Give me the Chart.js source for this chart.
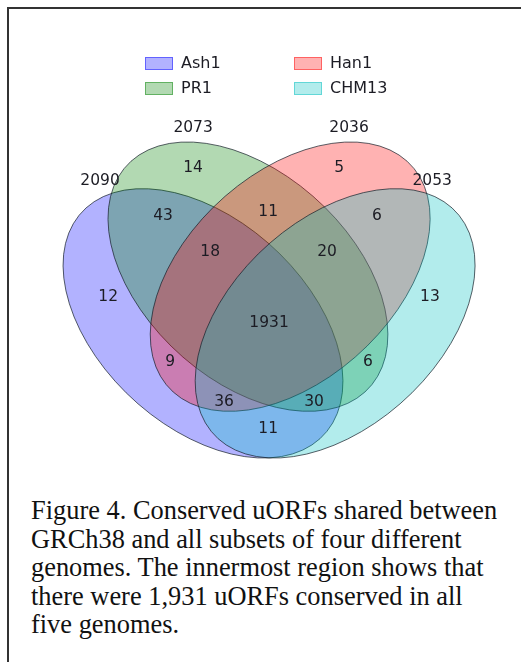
<!DOCTYPE html>
<html>
<head>
<meta charset="utf-8">
<script src="https://cdn.jsdelivr.net/npm/chart.js@4.4.1/dist/chart.umd.min.js"></script>
<style>
  body { margin: 0; background: #fff; }
  #frame { position: absolute; left: 7px; top: 7px; width: 600px; height: 700px;
           border-top: 2px solid #333; border-left: 2px solid #333; }
  #chartBox { position: absolute; left: 0; top: 0; }
  #caption { position: absolute; left: 31px; top: 496px; font-family: "Liberation Serif", serif;
             font-size: 26.4px; line-height: 28.6px; color: #111; white-space: nowrap; }
</style>
</head>
<body>
<div id="frame"></div>
<canvas id="chartBox" width="521" height="470"></canvas>
<div id="caption">Figure 4. Conserved uORFs shared between<br>GRCh38 and all subsets of four different<br>genomes. The innermost region shows that<br>there were 1,931 uORFs conserved in all<br>five genomes.</div>
<script>
// sets (order: blue, green, red, cyan)
var setNames = ["Ash1", "PR1", "Han1", "CHM13"];
var setTotals = [2090, 2073, 2036, 2053];
var setColors = ["0,0,255", "0,128,0", "255,0,0", "0,191,191"];

// region membership (Ash1 PR1 Han1 CHM13) and counts
var regionKeys = ["1000", "0100", "0010", "0001", "1100", "0110", "0011", "1110",
                  "0111", "1111", "1010", "0101", "1011", "1101", "1001"];
var regionCounts = [12, 14, 5, 13, 43, 11, 6, 18, 20, 1931, 9, 6, 36, 30, 11];

// layout (data units of the venn axes)
var regionPos = [[0.139, 0.456], [0.328, 0.733], [0.653, 0.733], [0.855, 0.456],
                 [0.261, 0.630], [0.495, 0.639], [0.737, 0.630], [0.366, 0.553],
                 [0.626, 0.553], [0.497, 0.401], [0.277, 0.317], [0.717, 0.317],
                 [0.397, 0.231], [0.597, 0.231], [0.495, 0.174]];
var setLabelPos = [[0.121, 0.705], [0.328, 0.818], [0.675, 0.818], [0.860, 0.705]];
var ellipseCenters = [[0.350, 0.400], [0.450, 0.500], [0.544, 0.500], [0.644, 0.400]];
var ellipseAngles = [140, 140, 40, 40];
var ellipseW = 0.72, ellipseH = 0.45;

var numFont = '15.5px "DejaVu Sans"';

const ellipsePlugin = {
  id: 'ellipses',
  beforeDatasetsDraw(chart) {
    var ctx = chart.ctx, xs = chart.scales.x, ys = chart.scales.y;
    var sx = xs.getPixelForValue(1) - xs.getPixelForValue(0);
    var sy = ys.getPixelForValue(0) - ys.getPixelForValue(1);
    ellipseCenters.forEach(function (c, i) {
      ctx.save();
      ctx.beginPath();
      ctx.translate(xs.getPixelForValue(c[0]), ys.getPixelForValue(c[1]));
      ctx.scale(sx, -sy);
      ctx.rotate(ellipseAngles[i] * Math.PI / 180);
      ctx.ellipse(0, 0, ellipseW / 2, ellipseH / 2, 0, 0, 2 * Math.PI);
      ctx.restore();
      ctx.save();
      ctx.fillStyle = 'rgba(' + setColors[i] + ',0.3)';
      ctx.fill();
      ctx.strokeStyle = 'rgba(20,30,40,0.7)';
      ctx.lineWidth = 1;
      ctx.stroke();
      ctx.restore();
    });
  },
  afterDatasetsDraw(chart) {
    var ctx = chart.ctx;
    ctx.save();
    ctx.font = numFont;
    ctx.fillStyle = '#1c1c24';
    ctx.textAlign = 'center';
    ctx.textBaseline = 'middle';
    chart.data.datasets.forEach(function (ds, di) {
      chart.getDatasetMeta(di).data.forEach(function (pt, i) {
        ctx.fillText(String(ds.data[i].v), pt.x, pt.y);
      });
    });
    ctx.restore();
  },
  afterDraw(chart) {
    // legend, two columns
    var ctx = chart.ctx;
    var order = [0, 2, 1, 3];
    ctx.save();
    ctx.font = '16px "DejaVu Sans"';
    ctx.textBaseline = 'middle';
    ctx.textAlign = 'left';
    order.forEach(function (s, k) {
      var x = 145 + (k % 2) * 149, y = 57 + Math.floor(k / 2) * 25;
      ctx.fillStyle = 'rgba(' + setColors[s] + ',0.3)';
      ctx.fillRect(x, y, 28, 13);
      ctx.strokeStyle = 'rgba(' + setColors[s] + ',0.45)';
      ctx.lineWidth = 1;
      ctx.strokeRect(x + 0.5, y + 0.5, 27, 12);
      ctx.fillStyle = '#1c1c24';
      ctx.fillText(setNames[s], x + 36, y + 7);
    });
    ctx.restore();
  }
};

new Chart(document.getElementById('chartBox').getContext('2d'), {
  type: 'scatter',
  data: {
    datasets: [{
      label: 'regions',
      data: regionCounts.map(function (v, i) {
        return { x: regionPos[i][0], y: regionPos[i][1], v: v, key: regionKeys[i] };
      }),
      pointRadius: 0
    }, {
      label: 'totals',
      data: setTotals.map(function (v, i) {
        return { x: setLabelPos[i][0], y: setLabelPos[i][1], v: v };
      }),
      pointRadius: 0
    }]
  },
  options: {
    responsive: false,
    animation: false,
    layout: { padding: 0 },
    plugins: { legend: { display: false }, tooltip: { enabled: false } },
    scales: {
      x: { type: 'linear', min: -0.1017, max: 1.0576, display: false },
      y: { type: 'linear', min: 0.0858, max: 1.0927, display: false }
    }
  },
  plugins: [ellipsePlugin]
});
</script>
</body>
</html>
